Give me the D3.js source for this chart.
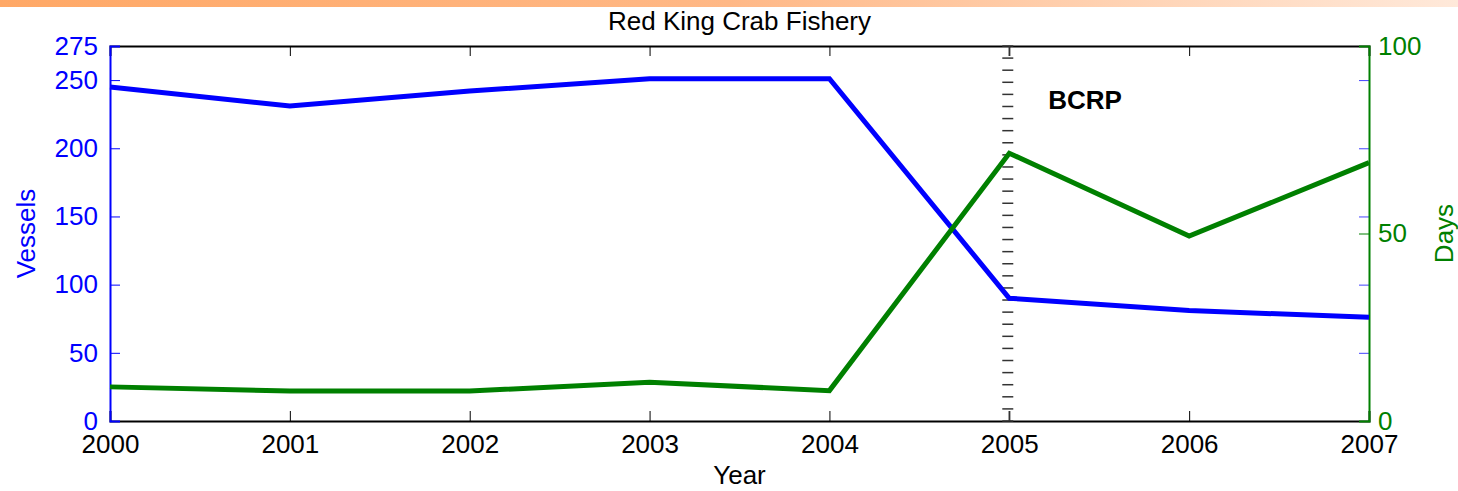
<!DOCTYPE html>
<html>
<head>
<meta charset="utf-8">
<script src="https://cdn.jsdelivr.net/npm/d3@7"></script>
<style>
  body { margin: 0; background: #fff; }
  text { font-family: "Liberation Sans", Arial, Helvetica, sans-serif; }
</style>
</head>
<body>
<div id="chart"></div>
<script>
// Data
const years = [2000, 2001, 2002, 2003, 2004, 2005, 2006, 2007];
const vessels = [245, 231, 242, 251, 251, 90, 81, 76];
const days = [9.1, 8, 8, 10.3, 8.1, 71.4, 49.3, 68.9];
const vesselTicks = [0, 50, 100, 150, 200, 250, 275];
const dayTicks = [0, 50, 100];
const programYear = 2005;
const programLabel = "BCRP";

// Dimensions
const W = 1458, H = 491;
const margins = { top: 46, bottom: 70, left: 110, right: 89 };
const width = W - margins.left - margins.right;
const height = H - margins.top - margins.bottom;

const BLUE = "#0000ff", GREEN = "#008000";

const svgRoot = d3.select("#chart").append("svg").attr("width", W).attr("height", H);

// orange strip at top
const grad = svgRoot.append("defs").append("linearGradient").attr("id", "strip");
grad.append("stop").attr("offset", "0%").attr("stop-color", "#ffa866");
grad.append("stop").attr("offset", "50%").attr("stop-color", "#ffb886");
grad.append("stop").attr("offset", "100%").attr("stop-color", "#ffe9da");
svgRoot.append("rect").attr("x", 0).attr("y", 0).attr("width", W).attr("height", 7).attr("fill", "url(#strip)");

const svg = svgRoot.append("g").attr("transform", "translate(" + margins.left + "," + margins.top + ")");

// Scales
const x = d3.scaleLinear().domain([2000, 2007]).range([0, width]);
const yL = d3.scaleLinear().domain([0, 275]).range([height, 0]);
const yR = d3.scaleLinear().domain([0, 100]).range([height, 0]);

// Axes
const tickLen = 10;
const fs = 26;

const xAx = svg.append("g").attr("transform", "translate(0," + height + ")")
  .call(d3.axisBottom(x).tickValues(years).tickFormat(d3.format("d")).tickSize(-tickLen).tickPadding(14));
xAx.select(".domain").attr("stroke", "#000").attr("stroke-width", 2);
xAx.selectAll(".tick line").attr("stroke", "#000");
xAx.selectAll("text").attr("font-size", fs).attr("fill", "#000");

const xTop = svg.append("g")
  .call(d3.axisTop(x).tickValues(years).tickSize(-tickLen).tickFormat(""));
xTop.select(".domain").attr("stroke", "#000").attr("stroke-width", 2);
xTop.selectAll(".tick line").attr("stroke", "#000");

const yAxL = svg.append("g")
  .call(d3.axisLeft(yL).tickValues(vesselTicks).tickSize(-tickLen).tickPadding(12));
yAxL.select(".domain").attr("stroke", BLUE).attr("stroke-width", 2);
yAxL.selectAll(".tick line").attr("stroke", BLUE);
yAxL.selectAll("text").attr("font-size", fs).attr("fill", BLUE);

// mirrored vessel ticks on the right side
const yAxLR = svg.append("g").attr("transform", "translate(" + width + ",0)")
  .call(d3.axisRight(yL).tickValues(vesselTicks.filter(d => d > 0 && d < 275)).tickSize(-tickLen).tickFormat(""));
yAxLR.select(".domain").remove();
yAxLR.selectAll(".tick line").attr("stroke", "#4444ff");

const yAxR = svg.append("g").attr("transform", "translate(" + width + ",0)")
  .call(d3.axisRight(yR).tickValues(dayTicks).tickSize(-tickLen).tickPadding(9));
yAxR.select(".domain").attr("stroke", GREEN).attr("stroke-width", 2);
yAxR.selectAll(".tick line").attr("stroke", GREEN);
yAxR.selectAll("text").attr("font-size", fs).attr("fill", GREEN);

// BCRP marker line
const xp = x(programYear);
const dashes = d3.range(0, 276, 275 / 31);
svg.append("g").selectAll("line").data(dashes).join("line")
  .attr("x1", xp - 7).attr("x2", xp + 4)
  .attr("y1", d => yL(d)).attr("y2", d => yL(d))
  .attr("stroke", "#333").attr("stroke-width", 1.5);
svg.append("line").attr("x1", xp).attr("x2", xp).attr("y1", yL(275)).attr("y2", yL(275) + 10)
  .attr("stroke", "#333").attr("stroke-width", 1.5);
svg.append("line").attr("x1", xp).attr("x2", xp).attr("y1", yL(0) - 10).attr("y2", yL(0))
  .attr("stroke", "#333").attr("stroke-width", 1.5);
svg.append("text").attr("x", xp + 39).attr("y", yL(275) + 63)
  .attr("font-size", 26).attr("font-weight", "bold").attr("fill", "#000").text(programLabel);

// Lines
const lineL = d3.line().x((d, i) => x(years[i])).y(d => yL(d));
const lineR = d3.line().x((d, i) => x(years[i])).y(d => yR(d));
svg.append("path").datum(vessels).attr("d", lineL)
  .attr("fill", "none").attr("stroke", BLUE).attr("stroke-width", 5).attr("stroke-linejoin", "miter");
svg.append("path").datum(days).attr("d", lineR)
  .attr("fill", "none").attr("stroke", GREEN).attr("stroke-width", 5).attr("stroke-linejoin", "miter");

// Labels
svgRoot.append("text").attr("x", margins.left + width / 2).attr("y", 30)
  .attr("text-anchor", "middle").attr("font-size", fs).attr("fill", "#000").text("Red King Crab Fishery");
svgRoot.append("text").attr("x", margins.left + width / 2).attr("y", 484)
  .attr("text-anchor", "middle").attr("font-size", fs).attr("fill", "#000").text("Year");
svgRoot.append("text").attr("transform", "translate(35," + (margins.top + height / 2) + ") rotate(-90)")
  .attr("text-anchor", "middle").attr("font-size", fs).attr("fill", BLUE).text("Vessels");
svgRoot.append("text").attr("transform", "translate(1453," + (margins.top + height / 2) + ") rotate(-90)")
  .attr("text-anchor", "middle").attr("font-size", fs).attr("fill", GREEN).text("Days");
</script>
</body>
</html>
